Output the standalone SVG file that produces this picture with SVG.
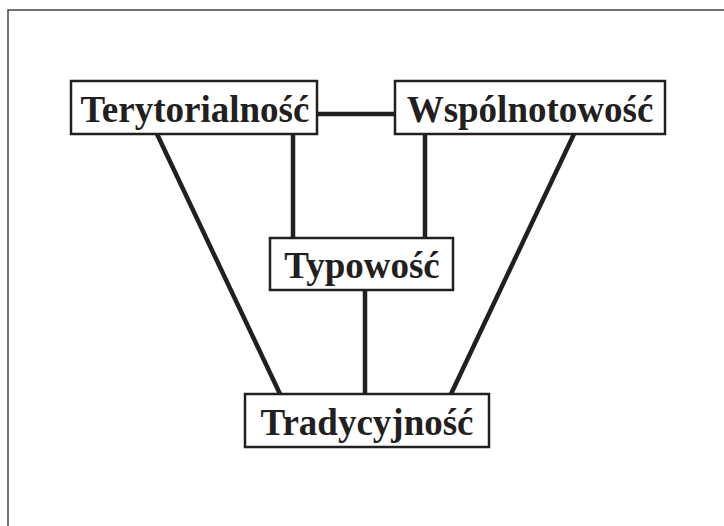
<svg xmlns="http://www.w3.org/2000/svg" width="724" height="526" viewBox="0 0 724 526">
<style>
.box{fill:#fff;stroke:#231f20;stroke-width:2.5}
.lbl{font-family:"Liberation Serif","Times New Roman",serif;font-weight:bold;font-size:37px;fill:#231f20;text-anchor:middle}
.con{stroke:#231f20;stroke-width:4.5;fill:none}
</style>
<rect x="0" y="0" width="724" height="526" fill="#fff"/>
<path d="M8,540 V10 H740" fill="none" stroke="#444" stroke-width="1.5"/>
<g id="connectors">
<line class="con" x1="317" y1="114" x2="395" y2="114"/>
<line class="con" x1="293" y1="134" x2="293" y2="238"/>
<line class="con" x1="425" y1="134" x2="425" y2="238"/>
<line class="con" x1="365" y1="290" x2="365" y2="394"/>
<line class="con" x1="157" y1="134" x2="280" y2="394"/>
<line class="con" x1="574" y1="134" x2="451" y2="394"/>
</g>
<g id="terytorialnosc">
<rect class="box" x="71" y="81" width="246" height="53"/>
<text class="lbl" x="195" y="122">Terytorialność</text>
</g>
<g id="wspolnotowosc">
<rect class="box" x="395" y="81" width="270" height="53"/>
<text class="lbl" x="530" y="122">Wspólnotowość</text>
</g>
<g id="typowosc">
<rect class="box" x="270" y="238" width="183" height="52"/>
<text class="lbl" x="362" y="278">Typowość</text>
</g>
<g id="tradycyjnosc">
<rect class="box" x="245" y="394" width="244" height="53"/>
<text class="lbl" x="367" y="435">Tradycyjność</text>
</g>
</svg>
